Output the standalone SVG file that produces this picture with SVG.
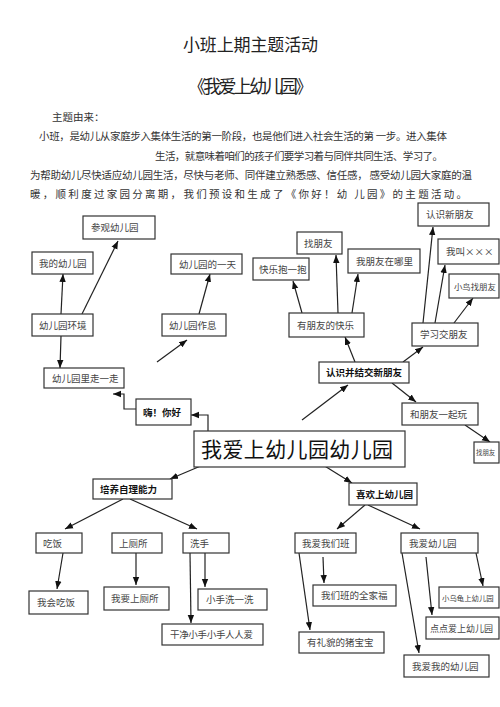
<svg xmlns="http://www.w3.org/2000/svg" width="500" height="707" viewBox="0 0 500 707">
<defs>
<style>
text{font-family:"Noto Sans CJK SC","Liberation Sans",sans-serif;}
.title{font-size:17px;fill:#222;}
.para{font-size:10.5px;fill:#333;}
.box{fill:#fff;stroke:#333;stroke-width:1.2;}
.lbl{font-size:9.5px;fill:#444;}
.bold{font-size:9.5px;fill:#111;font-weight:bold;}
.main{font-size:21px;fill:#111;}
.con{fill:none;stroke:#222;stroke-width:1.2;marker-end:url(#ah);}
</style>
<marker id="ah" markerUnits="userSpaceOnUse" markerWidth="8" markerHeight="8" viewBox="0 0 8 8" refX="8" refY="4" orient="auto">
<path d="M0,0.8 L8,4 L0,7.2 Z" fill="#111"/>
</marker>
</defs>
<rect width="500" height="707" fill="#fff"/>

<g id="header">
<text class="title" x="183" y="51" textLength="135">小班上期主题活动</text>
<text class="title" x="188" y="93" style="font-size:18px" textLength="125">《我爱上幼儿园》</text>
<text class="para" x="52" y="121">主题由来：</text>
<text class="para" x="39" y="140" textLength="408">小班，是幼儿从家庭步入集体生活的第一阶段，也是他们进入社会生活的第 一步。进入集体</text>
<text class="para" x="155" y="160" textLength="288">生活，就意味着咱们的孩子们要学习着与同伴共同生活、学习了。</text>
<text class="para" x="30" y="179" textLength="442">为帮助幼儿尽快适应幼儿园生活，尽快与老师、同伴建立熟悉感、信任感， 感受幼儿园大家庭的温</text>
<text class="para" x="30" y="198" textLength="437">暖，顺利度过家园分离期，我们预设和生成了《你好！幼 儿园》的主题活动。</text>
</g>

<g id="connectors">
<line class="con" x1="61" y1="314" x2="63" y2="274"/>
<line class="con" x1="82" y1="314" x2="118" y2="241"/>
<line class="con" x1="61" y1="336" x2="60" y2="368"/>
<line class="con" x1="199" y1="314" x2="210" y2="274"/>
<line class="con" x1="157" y1="362" x2="187" y2="340"/>
<polyline class="con" points="136,409 124,409 124,394 113,394"/>
<polyline class="con" points="208,431 208,415 191,415"/>
<line class="con" x1="302" y1="420" x2="348" y2="385"/>
<line class="con" x1="392" y1="383" x2="416" y2="402"/>
<line class="con" x1="355" y1="362" x2="345" y2="337"/>
<line class="con" x1="302" y1="313" x2="293" y2="281"/>
<line class="con" x1="338" y1="313" x2="336" y2="255"/>
<line class="con" x1="352" y1="313" x2="358" y2="274"/>
<line class="con" x1="403" y1="362" x2="423" y2="347"/>
<line class="con" x1="423" y1="323" x2="433" y2="227"/>
<line class="con" x1="435" y1="323" x2="445" y2="265"/>
<line class="con" x1="454" y1="323" x2="473" y2="298"/>
<line class="con" x1="465" y1="425" x2="490" y2="442"/>
<line class="con" x1="315" y1="460" x2="352" y2="483"/>
<line class="con" x1="203" y1="465" x2="170" y2="479"/>
<line class="con" x1="123" y1="499" x2="65" y2="529"/>
<line class="con" x1="130" y1="499" x2="197" y2="529"/>
<line class="con" x1="365" y1="505" x2="337" y2="529"/>
<line class="con" x1="368" y1="505" x2="420" y2="529"/>
<line class="con" x1="63" y1="553" x2="57" y2="589"/>
<line class="con" x1="136" y1="553" x2="136" y2="585"/>
<line class="con" x1="205" y1="553" x2="205" y2="587"/>
<line class="con" x1="190" y1="553" x2="191" y2="623"/>
<line class="con" x1="323" y1="557" x2="324" y2="583"/>
<line class="con" x1="299" y1="553" x2="310" y2="630"/>
<line class="con" x1="426" y1="557" x2="432" y2="615"/>
<line class="con" x1="402" y1="553" x2="419" y2="653"/>
<line class="con" x1="476" y1="553" x2="483" y2="586"/>
</g>

<g id="n-canguan"><rect class="box" x="83" y="216" width="72" height="23"/><text class="lbl" x="91" y="231">参观幼儿园</text></g>
<g id="n-wode"><rect class="box" x="32" y="252" width="61" height="22"/><text class="lbl" x="39" y="266.5">我的幼儿园</text></g>
<g id="n-yitian"><rect class="box" x="171" y="254" width="71" height="20"/><text class="lbl" x="179" y="267.5">幼儿园的一天</text></g>
<g id="n-huanjing"><rect class="box" x="32" y="314" width="61" height="22"/><text class="lbl" x="39" y="328.5">幼儿园环境</text></g>
<g id="n-zuoxi"><rect class="box" x="162" y="314" width="64" height="22"/><text class="lbl" x="169" y="328.5">幼儿园作息</text></g>
<g id="n-zouyizou"><rect class="box" x="44" y="368" width="80" height="20"/><text class="lbl" x="52" y="381.5">幼儿园里走一走</text></g>
<g id="n-nihao"><rect class="box" x="136" y="399" width="55" height="26"/><text class="bold" x="143" y="415.5">嗨！你好</text></g>
<g id="n-main"><rect class="box" x="194" y="431" width="211" height="36"/><text class="main" x="201" y="457" textLength="192">我爱上幼儿园幼儿园</text></g>
<g id="n-renshi"><rect class="box" x="319" y="362" width="90" height="21"/><text class="bold" x="326" y="376">认识并结交新朋友</text></g>
<g id="n-youpengyou"><rect class="box" x="289" y="313" width="75" height="24"/><text class="lbl" x="297" y="328.5">有朋友的快乐</text></g>
<g id="n-baoyibao"><rect class="box" x="253" y="258" width="56" height="22"/><text class="lbl" x="259" y="272.5">快乐抱一抱</text></g>
<g id="n-zhaopengyou"><rect class="box" x="297" y="232" width="45" height="22"/><text class="lbl" x="304" y="246.5">找朋友</text></g>
<g id="n-nali"><rect class="box" x="348" y="249" width="72" height="24"/><text class="lbl" x="356" y="264.5">我朋友在哪里</text></g>
<g id="n-xinpengyou"><rect class="box" x="418" y="203" width="71" height="23"/><text class="lbl" x="426" y="218">认识新朋友</text></g>
<g id="n-jiao"><rect class="box" x="438" y="239" width="61" height="25"/><text class="lbl" x="446" y="255">我叫×××</text></g>
<g id="n-xiaoniao"><rect class="box" x="449" y="274" width="50" height="24"/><text class="lbl" x="454" y="289.5" style="font-size:8.4px">小鸟找朋友</text></g>
<g id="n-xuexi"><rect class="box" x="412" y="323" width="66" height="23"/><text class="lbl" x="420" y="338">学习交朋友</text></g>
<g id="n-yiqiwan"><rect class="box" x="402" y="403" width="76" height="22"/><text class="lbl" x="410" y="417.5">和朋友一起玩</text></g>
<g id="n-zhaopengyou2"><rect class="box" x="474" y="442" width="25" height="21"/><text class="lbl" x="476" y="455" style="font-size:6.4px">找朋友</text></g>
<g id="n-xihuan"><rect class="box" x="349" y="483" width="68" height="22"/><text class="bold" x="356" y="497.5">喜欢上幼儿园</text></g>
<g id="n-peiyang"><rect class="box" x="93" y="479" width="79" height="20"/><text class="bold" x="100" y="492.5">培养自理能力</text></g>
<g id="n-chifan"><rect class="box" x="36" y="533" width="46" height="20"/><text class="lbl" x="43" y="546.5">吃饭</text></g>
<g id="n-cesuo"><rect class="box" x="112" y="533" width="50" height="20"/><text class="lbl" x="119" y="546.5">上厕所</text></g>
<g id="n-xishou"><rect class="box" x="183" y="533" width="46" height="20"/><text class="lbl" x="190" y="546.5">洗手</text></g>
<g id="n-huichifan"><rect class="box" x="29" y="591" width="59" height="23"/><text class="lbl" x="37" y="606">我会吃饭</text></g>
<g id="n-shangcesuo"><rect class="box" x="104" y="587" width="65" height="23"/><text class="lbl" x="111" y="602">我要上厕所</text></g>
<g id="n-xiyixi"><rect class="box" x="198" y="589" width="69" height="21"/><text class="lbl" x="206" y="603">小手洗一洗</text></g>
<g id="n-ganjing"><rect class="box" x="162" y="624" width="101" height="21"/><text class="lbl" x="170" y="638" textLength="83">干净小手小手人人爱</text></g>
<g id="n-women"><rect class="box" x="295" y="533" width="61" height="20"/><text class="lbl" x="302" y="546.5">我爱我们班</text></g>
<g id="n-aiyou"><rect class="box" x="401" y="533" width="77" height="20"/><text class="lbl" x="409" y="546.5">我爱幼儿园</text></g>
<g id="n-quanjiafu"><rect class="box" x="313" y="585" width="83" height="21"/><text class="lbl" x="321" y="599">我们班的全家福</text></g>
<g id="n-zhubaobao"><rect class="box" x="299" y="632" width="85" height="21"/><text class="lbl" x="307" y="646">有礼貌的猪宝宝</text></g>
<g id="n-wugui"><rect class="box" x="439" y="587" width="60" height="21"/><text class="lbl" x="442" y="600.5" style="font-size:7.4px">小乌龟上幼儿园</text></g>
<g id="n-diandian"><rect class="box" x="426" y="617" width="73" height="22"/><text class="lbl" x="430" y="631.5" style="font-size:9px">点点爱上幼儿园</text></g>
<g id="n-wodeyou"><rect class="box" x="404" y="655" width="85" height="22"/><text class="lbl" x="412" y="669.5">我爱我的幼儿园</text></g>
</svg>
